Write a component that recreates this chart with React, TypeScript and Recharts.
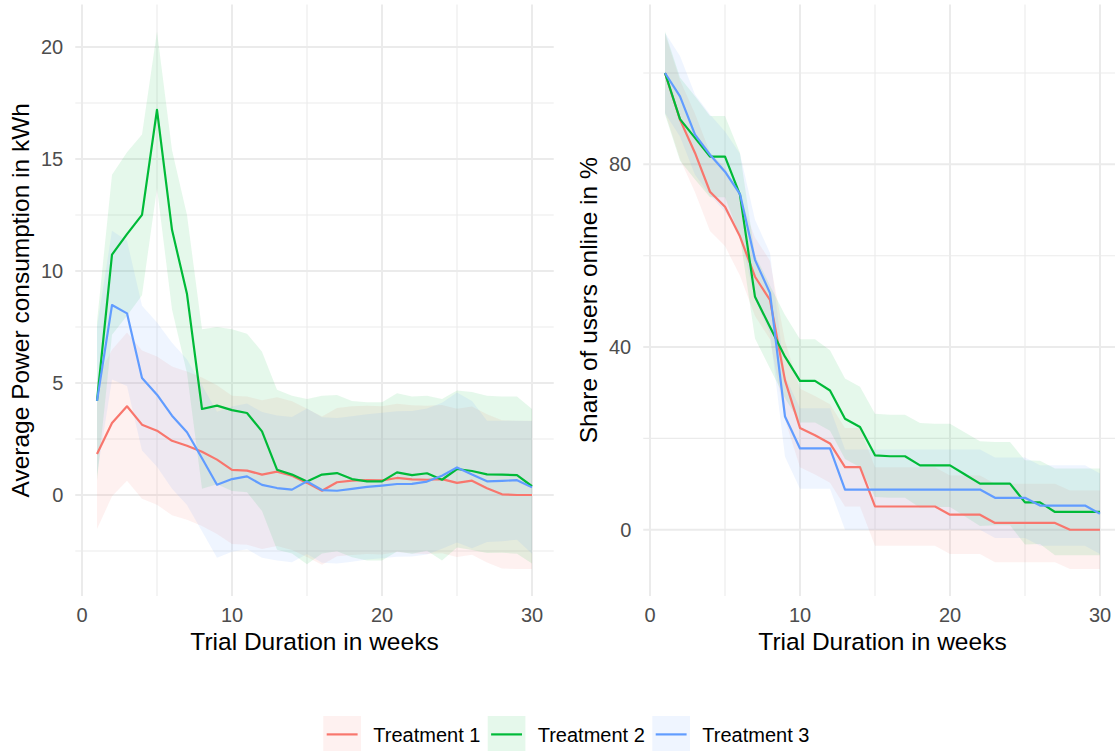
import React from 'react';
import { ComposedChart, Area, Line, XAxis, YAxis, CartesianGrid, Label } from 'recharts';

const weeks = [1, 2, 3, 4, 5, 6, 7, 8, 9, 10, 11, 12, 13, 14, 15, 16, 17, 18, 19, 20, 21, 22, 23, 24, 25, 26, 27, 28, 29, 30];
const seriesNames = ['Treatment 1', 'Treatment 2', 'Treatment 3'];
const seriesColors = ['#F8766D', '#00BA38', '#619CFF'];

// left panel: average power consumption (kWh), mean and ribbon bounds
const powerT1 = [1.83, 3.21, 3.96, 3.14, 2.87, 2.42, 2.2, 1.93, 1.58, 1.12, 1.09, 0.91, 1.04, 0.86, 0.54, 0.19, 0.57, 0.64, 0.67, 0.65, 0.76, 0.7, 0.68, 0.71, 0.54, 0.64, 0.3, 0.03, 0, 0];
const powerT1Low = [-1.52, -0.06, 0.64, -0.17, -0.44, -0.9, -1.11, -1.39, -1.74, -2.19, -2.22, -2.41, -2.28, -2.46, -2.77, -3.12, -2.74, -2.68, -2.64, -2.66, -2.55, -2.61, -2.63, -2.6, -2.77, -2.67, -3.01, -3.28, -3.31, -3.31];
const powerT1High = [5.18, 6.48, 7.26, 6.45, 6.18, 5.74, 5.51, 5.25, 4.9, 4.43, 4.4, 4.23, 4.36, 4.18, 3.85, 3.5, 3.88, 3.96, 3.98, 3.96, 4.07, 4.01, 3.99, 4.02, 3.85, 3.95, 3.61, 3.34, 3.31, 3.31];

const powerT2 = [4.2, 10.73, 11.65, 12.51, 17.2, 11.84, 8.97, 3.84, 3.99, 3.79, 3.66, 2.84, 1.13, 0.91, 0.6, 0.91, 0.98, 0.71, 0.61, 0.61, 1.01, 0.89, 0.97, 0.68, 1.16, 1.07, 0.92, 0.91, 0.89, 0.39];
const powerT2Low = [0.65, 7.16, 8.0, 8.92, 13.7, 8.28, 5.44, 0.28, 0.48, 0.18, 0.12, -0.72, -2.44, -2.61, -3.09, -2.61, -2.51, -2.78, -2.92, -2.92, -2.52, -2.62, -2.49, -2.93, -2.34, -2.46, -2.59, -2.58, -2.62, -3.06];
const powerT2High = [7.75, 14.3, 15.3, 16.1, 20.7, 15.4, 12.5, 7.4, 7.5, 7.4, 7.2, 6.4, 4.7, 4.43, 4.29, 4.43, 4.47, 4.2, 4.14, 4.14, 4.54, 4.4, 4.43, 4.29, 4.66, 4.6, 4.43, 4.4, 4.4, 3.84];

const powerT3 = [4.2, 8.48, 8.11, 5.22, 4.48, 3.54, 2.8, 1.64, 0.46, 0.71, 0.83, 0.45, 0.31, 0.24, 0.61, 0.22, 0.19, 0.27, 0.36, 0.42, 0.49, 0.5, 0.6, 0.86, 1.23, 0.91, 0.61, 0.63, 0.66, 0.34];
const powerT3Low = [0.9, 5.16, 4.87, 1.99, 1.26, 0.28, -0.45, -1.62, -2.8, -2.53, -2.42, -2.8, -2.93, -3.0, -2.64, -3.03, -3.06, -2.98, -2.88, -2.83, -2.76, -2.75, -2.66, -2.4, -2.12, -2.38, -2.1, -2.06, -2.0, -2.62];
const powerT3High = [7.5, 11.8, 11.35, 8.45, 7.7, 6.8, 6.05, 4.9, 3.72, 3.95, 4.08, 3.7, 3.55, 3.48, 3.86, 3.47, 3.44, 3.52, 3.6, 3.67, 3.74, 3.75, 3.86, 4.12, 4.58, 4.2, 3.32, 3.32, 3.32, 3.3];

// right panel: share of users online (%)
const onlineT1 = [100, 89.8, 82.5, 74.0, 70.7, 64.2, 55.4, 50.3, 32.7, 22.3, 20.7, 18.9, 13.7, 13.7, 5.1, 5.1, 5.1, 5.1, 5.1, 3.3, 3.3, 3.3, 1.5, 1.5, 1.5, 1.5, 1.5, 0, 0, 0];
const onlineT1Low = [91.4, 81.2, 73.9, 65.4, 62.1, 55.6, 46.8, 41.7, 24.1, 13.7, 12.1, 10.3, 5.1, 5.1, -3.5, -3.5, -3.5, -3.5, -3.5, -5.3, -5.3, -5.3, -7.1, -7.1, -7.1, -7.1, -7.1, -8.6, -8.6, -8.6];
const onlineT1High = [108.6, 98.4, 91.1, 82.6, 79.3, 72.8, 64.0, 58.9, 41.3, 30.9, 29.3, 27.5, 22.3, 22.3, 13.7, 13.7, 13.7, 13.7, 13.7, 11.9, 11.9, 11.9, 10.1, 10.1, 10.1, 10.1, 10.1, 8.6, 8.6, 8.6];

const onlineT2 = [100, 89.9, 85.8, 81.7, 81.7, 73.3, 51.0, 44.4, 37.9, 32.6, 32.6, 30.5, 24.3, 22.5, 16.3, 16.1, 16.1, 14.1, 14.1, 14.1, 12.1, 10.1, 10.1, 10.1, 6.0, 6.0, 3.9, 3.9, 3.9, 3.9];
const onlineT2Low = [90.9, 80.8, 76.7, 72.8, 72.8, 64.1, 41.9, 35.3, 28.8, 23.5, 23.5, 21.7, 15.5, 13.7, 7.2, 7.0, 7.0, 4.8, 5.0, 5.0, 2.9, 0.8, 1.0, 1.0, -3.2, -3.1, -5.6, -5.6, -5.6, -5.6];
const onlineT2High = [109.1, 99.0, 94.9, 90.6, 90.6, 82.5, 60.1, 53.5, 47.0, 41.7, 41.7, 39.3, 33.1, 31.3, 25.4, 25.2, 25.2, 23.4, 23.2, 23.2, 21.3, 19.4, 19.2, 19.2, 15.2, 15.1, 13.4, 13.4, 13.4, 13.4];

const onlineT3 = [100, 94.9, 86.5, 82.1, 78.4, 73.5, 59.1, 51.8, 24.8, 17.8, 17.8, 17.8, 8.8, 8.8, 8.8, 8.8, 8.8, 8.8, 8.8, 8.8, 8.8, 8.8, 7.0, 7.0, 7.0, 5.3, 5.3, 5.3, 5.3, 3.5];
const onlineT3Low = [91.2, 86.1, 77.7, 73.3, 69.6, 64.7, 50.3, 43.0, 16.0, 9.0, 9.0, 9.0, 0.0, 0.0, 0.0, 0.0, 0.0, 0.0, 0.0, 0.0, 0.0, 0.0, -1.8, -1.8, -1.8, -3.5, -3.5, -3.5, -3.5, -5.3];
const onlineT3High = [108.8, 103.7, 95.3, 90.9, 87.2, 82.3, 67.9, 60.6, 33.6, 26.6, 26.6, 26.6, 17.6, 17.6, 17.6, 17.6, 17.6, 17.6, 17.6, 17.6, 17.6, 17.6, 15.8, 15.8, 15.8, 14.1, 14.1, 14.1, 14.1, 12.3];

const xTicks = [0, 10, 20, 30];
const xMinor = [5, 15, 25];
const powerTicks = [0, 5, 10, 15, 20];
const powerMinor = [-2.5, 2.5, 7.5, 12.5, 17.5];
const onlineTicks = [0, 40, 80];
const onlineMinor = [20, 60, 100];

const buildRows = (means: number[][], lows: number[][], highs: number[][]) =>
  weeks.map((week, i) => {
    const row: Record<string, any> = { week };
    means.forEach((m, s) => {
      row[`m${s}`] = m[i];
      row[`r${s}`] = [lows[s][i], highs[s][i]];
    });
    return row;
  });

const powerRows = buildRows(
  [powerT1, powerT2, powerT3],
  [powerT1Low, powerT2Low, powerT3Low],
  [powerT1High, powerT2High, powerT3High]
);
const onlineRows = buildRows(
  [onlineT1, onlineT2, onlineT3],
  [onlineT1Low, onlineT2Low, onlineT3Low],
  [onlineT1High, onlineT2High, onlineT3High]
);

const FONT = "'Liberation Sans', Arial, sans-serif";
const GRID = '#EBEBEB';
const tickStyle = { fill: '#4D4D4D', fontSize: 20 };

const yTitle = (text: string) => (props: any) => {
  const vb = props.viewBox;
  const bx = vb.x + 29;
  const cy = vb.y + vb.height / 2;
  return (
    <text x={bx} y={cy} transform={`rotate(-90, ${bx}, ${cy})`} textAnchor="middle" fontSize={24.5} fill="#000">
      {text}
    </text>
  );
};

interface PanelProps {
  left: number;
  rows: Record<string, any>[];
  yDomain: [number, number];
  yTicks: number[];
  yMinor: number[];
  title: string;
}

const Panel: React.FC<PanelProps> = ({ left, rows, yDomain, yTicks, yMinor, title }) => (
  <div style={{ position: 'absolute', left, top: 0 }}>
    <ComposedChart width={568} height={660} data={rows} margin={{ top: 4.5, right: 14.25, bottom: 4, left: 0 }}>
      <CartesianGrid stroke={GRID} strokeWidth={1.1} horizontalValues={yMinor} verticalValues={xMinor} />
      <CartesianGrid stroke={GRID} strokeWidth={2} horizontalValues={yTicks} verticalValues={xTicks} />
      <XAxis
        dataKey="week"
        type="number"
        domain={[-0.45, 31.45]}
        ticks={xTicks}
        allowDataOverflow
        axisLine={false}
        tickLine={false}
        tickSize={0}
        tickMargin={12}
        height={60}
        tick={tickStyle}
        label={{ value: 'Trial Duration in weeks', position: 'insideBottom', offset: 6, fill: '#000', fontSize: 24.5 }}
      />
      <YAxis
        type="number"
        domain={yDomain}
        ticks={yTicks}
        allowDataOverflow
        axisLine={false}
        tickLine={false}
        tickSize={0}
        tickMargin={12}
        width={75.25}
        tick={tickStyle}
      >
        <Label content={yTitle(title)} />
      </YAxis>
      {seriesColors.map((c, s) => (
        <Area
          key={`r${s}`}
          dataKey={`r${s}`}
          type="linear"
          fill={c}
          fillOpacity={0.1}
          stroke="none"
          dot={false}
          activeDot={false}
          isAnimationActive={false}
        />
      ))}
      {seriesColors.map((c, s) => (
        <Line
          key={`m${s}`}
          dataKey={`m${s}`}
          type="linear"
          stroke={c}
          strokeWidth={2.2}
          strokeLinejoin="round"
          dot={false}
          activeDot={false}
          isAnimationActive={false}
        />
      ))}
    </ComposedChart>
  </div>
);

const legendKeyX = [323.3, 487.7, 652.3];

const LegendRow: React.FC = () => (
  <svg width={1115} height={40} style={{ position: 'absolute', left: 0, top: 715 }}>
    {seriesNames.map((name, s) => (
      <g key={name}>
        <rect x={legendKeyX[s]} y={1} width={37.7} height={37} fill={seriesColors[s]} fillOpacity={0.1} />
        <line x1={legendKeyX[s] + 3.4} x2={legendKeyX[s] + 34.3} y1={19.4} y2={19.4} stroke={seriesColors[s]} strokeWidth={2.2} />
        <text x={legendKeyX[s] + 50} y={27.4} fontSize={20} fill="#000">
          {name}
        </text>
      </g>
    ))}
  </svg>
);

export default function App() {
  return (
    <div
      style={{
        position: 'absolute',
        left: 0,
        top: 0,
        width: 1115,
        height: 751,
        overflow: 'hidden',
        background: '#fff',
        fontFamily: FONT,
      }}
    >
      <Panel
        left={0}
        rows={powerRows}
        yDomain={[-4.51, 21.9]}
        yTicks={powerTicks}
        yMinor={powerMinor}
        title="Average Power consumption in kWh"
      />
      <Panel
        left={568}
        rows={onlineRows}
        yDomain={[-14.5, 115]}
        yTicks={onlineTicks}
        yMinor={onlineMinor}
        title="Share of users online in %"
      />
      <LegendRow />
    </div>
  );
}
